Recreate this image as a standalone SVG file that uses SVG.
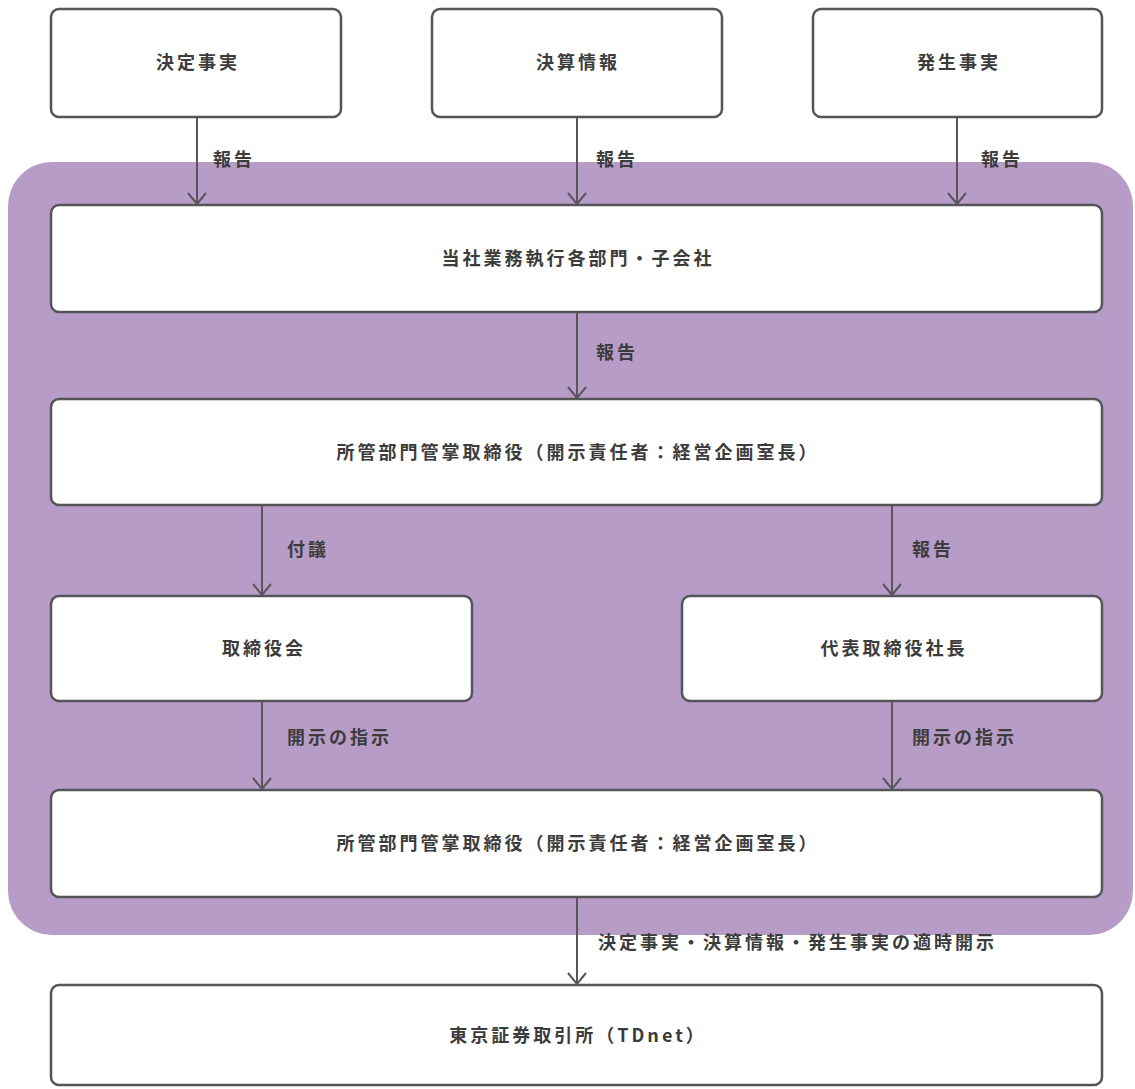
<svg xmlns="http://www.w3.org/2000/svg" width="1135" height="1089" viewBox="0 0 1135 1089">
<defs>
<style>
.bg{fill:#b89cc8}
.box{fill:#ffffff;stroke:#555458;stroke-width:2.5}
.t{font-family:"Noto Sans CJK JP","Noto Sans",sans-serif;font-size:18px;font-weight:bold;fill:#3c3c3c;letter-spacing:3px}
.c{text-anchor:middle}
.ln{fill:none;stroke:#58565c;stroke-width:2}
</style>
<marker id="ah" viewBox="0 0 14 20" refX="13" refY="10" markerWidth="14" markerHeight="20" markerUnits="userSpaceOnUse" orient="auto">
<path d="M2,1 L13,10 L2,19" fill="none" stroke="#58565c" stroke-width="2"/>
</marker>
</defs>
<rect width="1135" height="1089" fill="#ffffff"/>
<rect class="bg" x="8" y="162" width="1125" height="773" rx="44" ry="44"/>

<g id="n1"><rect class="box" x="51" y="9" width="290" height="108" rx="8"/><text class="t c" x="198" y="69">決定事実</text></g>
<g id="n2"><rect class="box" x="432" y="9" width="290" height="108" rx="8"/><text class="t c" x="578" y="69">決算情報</text></g>
<g id="n3"><rect class="box" x="813" y="9" width="289" height="108" rx="8"/><text class="t c" x="959" y="69">発生事実</text></g>
<g id="n4"><rect class="box" x="51" y="205" width="1051" height="107" rx="8"/><text class="t c" x="578" y="265">当社業務執行各部門・子会社</text></g>
<g id="n5"><rect class="box" x="51" y="399" width="1051" height="106" rx="8"/><text class="t c" x="578" y="459">所管部門管掌取締役（開示責任者：経営企画室長）</text></g>
<g id="n6"><rect class="box" x="51" y="596" width="421" height="105" rx="8"/><text class="t c" x="264" y="655">取締役会</text></g>
<g id="n7"><rect class="box" x="682" y="596" width="420" height="105" rx="8"/><text class="t c" x="894" y="655">代表取締役社長</text></g>
<g id="n8"><rect class="box" x="51" y="790" width="1051" height="107" rx="8"/><text class="t c" x="578" y="850">所管部門管掌取締役（開示責任者：経営企画室長）</text></g>
<g id="n9"><rect class="box" x="51" y="985" width="1051" height="100" rx="8"/><text class="t c" x="578" y="1042">東京証券取引所（TDnet）</text></g>

<g id="connectors">
<line class="ln" x1="197" y1="117" x2="197" y2="204" marker-end="url(#ah)"/>
<line class="ln" x1="577" y1="117" x2="577" y2="204" marker-end="url(#ah)"/>
<line class="ln" x1="957" y1="117" x2="957" y2="204" marker-end="url(#ah)"/>
<line class="ln" x1="577" y1="312" x2="577" y2="398" marker-end="url(#ah)"/>
<line class="ln" x1="262" y1="505" x2="262" y2="595" marker-end="url(#ah)"/>
<line class="ln" x1="892" y1="505" x2="892" y2="595" marker-end="url(#ah)"/>
<line class="ln" x1="262" y1="701" x2="262" y2="789" marker-end="url(#ah)"/>
<line class="ln" x1="892" y1="701" x2="892" y2="789" marker-end="url(#ah)"/>
<line class="ln" x1="577" y1="897" x2="577" y2="984" marker-end="url(#ah)"/>
<text class="t" x="213" y="166">報告</text>
<text class="t" x="596" y="166">報告</text>
<text class="t" x="981" y="166">報告</text>
<text class="t" x="596" y="359">報告</text>
<text class="t" x="287" y="556">付議</text>
<text class="t" x="912" y="556">報告</text>
<text class="t" x="287" y="744">開示の指示</text>
<text class="t" x="912" y="744">開示の指示</text>
<text class="t" x="598" y="949">決定事実・決算情報・発生事実の適時開示</text>
</g>
</svg>
